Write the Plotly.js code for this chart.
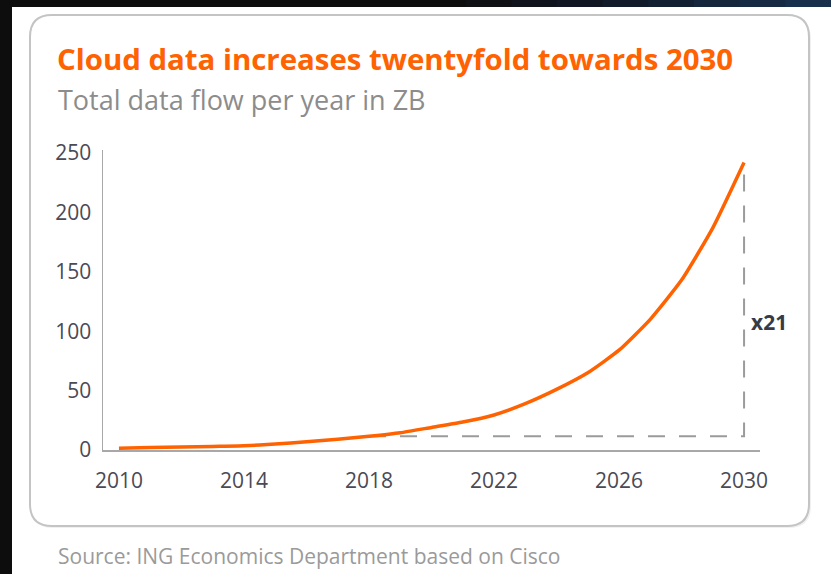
<!DOCTYPE html>
<html>
<head>
<meta charset="utf-8">
<script src="https://cdn.plot.ly/plotly-3.0.1.min.js"></script>
<style>html,body{margin:0;padding:0;background:#fff;}#chart{width:831px;height:574px;}</style>
</head>
<body>
<div id="chart"></div>
<script>
// ---- data ----
const years = [2010,2011,2012,2013,2014,2015,2016,2017,2018,2019,2020,2021,2022,2023,2024,2025,2026,2027,2028,2029,2030];
const zettabytes = [1.5,2,2.5,3,3.5,5,7,9,11.5,14.5,19,23.5,29.5,39,51,65,84,110,143,187,242];
const xTicks = [2010,2014,2018,2022,2026,2030];
const yTicks = [0,50,100,150,200,250];
const baseYear = 2018;
const endYear = 2030;
const growthLabel = "x21";

// ---- layout geometry (pixels) ----
const W = 831, H = 574, L = 103, R = 760, T = 150, B = 450;
const px = x => (x - L) / (R - L);
const py = y => (B - y) / (B - T);

const baseVal = zettabytes[years.indexOf(baseYear)];
const endVal = zettabytes[years.indexOf(endYear)];

function roundedRect(x0, y0, x1, y1, r) {
  const X = px, Y = py;
  return 'M' + X(x0 + r) + ',' + Y(y0) +
    ' L' + X(x1 - r) + ',' + Y(y0) +
    ' Q' + X(x1) + ',' + Y(y0) + ' ' + X(x1) + ',' + Y(y0 + r) +
    ' L' + X(x1) + ',' + Y(y1 - r) +
    ' Q' + X(x1) + ',' + Y(y1) + ' ' + X(x1 - r) + ',' + Y(y1) +
    ' L' + X(x0 + r) + ',' + Y(y1) +
    ' Q' + X(x0) + ',' + Y(y1) + ' ' + X(x0) + ',' + Y(y1 - r) +
    ' L' + X(x0) + ',' + Y(y0 + r) +
    ' Q' + X(x0) + ',' + Y(y0) + ' ' + X(x0 + r) + ',' + Y(y0) + ' Z';
}

const shapes = [];
// card shadow + card
shapes.push({type:'path', xref:'paper', yref:'paper', path: roundedRect(31, 17, 811, 528, 22),
  fillcolor:'rgba(0,0,0,0.06)', line:{width:0}, layer:'below'});
shapes.push({type:'path', xref:'paper', yref:'paper', path: roundedRect(30, 15, 809, 526, 22),
  fillcolor:'#ffffff', line:{color:'#c4c4c4', width:2}, layer:'below'});
// dark frame bands
shapes.push({type:'rect', xref:'paper', yref:'paper', x0:px(0), x1:px(12), y0:py(0), y1:py(H),
  fillcolor:'#0d0d0d', line:{width:0}});
const bandColors = ['#0d0d0d','#0e1014','#0f131b','#101722','#111b2a','#132033','#15253c','#172a44','#19304c'];
const bandStart = 420, bandStep = (W - bandStart) / bandColors.length;
shapes.push({type:'rect', xref:'paper', yref:'paper', x0:px(0), x1:px(bandStart), y0:py(0), y1:py(7),
  fillcolor:'#0d0d0d', line:{width:0}});
bandColors.forEach((c, i) => {
  shapes.push({type:'rect', xref:'paper', yref:'paper',
    x0:px(bandStart + i * bandStep), x1:px(bandStart + (i + 1) * bandStep + 1), y0:py(0), y1:py(7),
    fillcolor:c, line:{width:0}});
});

const traces = [
  {
    x: [baseYear, endYear, endYear],
    y: [baseVal, baseVal, endVal],
    mode: 'lines',
    line: {color:'#9b9b9b', width:2, dash:'17px,14px'},
    hoverinfo:'skip',
    showlegend:false
  },
  {
    x: years,
    y: zettabytes,
    mode: 'lines',
    line: {color:'#ff6200', width:3.5, shape:'spline', smoothing:0.5},
    showlegend:false
  }
];

const layout = {
  width: W, height: H,
  margin: {l: L, r: W - R, t: T, b: H - B, pad: 0},
  paper_bgcolor: '#ffffff',
  plot_bgcolor: 'rgba(0,0,0,0)',
  font: {family: 'Open Sans, sans-serif', color: '#4a4a55'},
  title: {
    text: 'Cloud data increases twentyfold towards 2030',
    xref: 'container', yref: 'container',
    x: 57 / W, xanchor: 'left',
    y: 1 - 60 / H, yanchor: 'middle',
    font: {family: 'Open Sans, sans-serif', size: 29.4, color: '#ff6200', weight: 700}
  },
  xaxis: {
    range: [2009.49, 2030.51],
    tickvals: xTicks,
    ticktext: xTicks.map(String),
    showgrid: false, zeroline: false,
    showline: true, linecolor: '#a8a8a8', linewidth: 1.5,
    ticks: 'outside', ticklen: 11, tickcolor: 'rgba(0,0,0,0)',
    tickfont: {size: 21, color: '#4a4a55'},
    fixedrange: true
  },
  yaxis: {
    range: [0, 252.5],
    tickvals: yTicks,
    showgrid: false, zeroline: false,
    showline: true, linecolor: '#a8a8a8', linewidth: 1.5,
    ticks: 'outside', ticklen: 6, tickcolor: 'rgba(0,0,0,0)',
    tickfont: {size: 21, color: '#4a4a55'},
    fixedrange: true
  },
  shapes: shapes,
  annotations: [
    {text: 'Total data flow per year in ZB', xref:'paper', yref:'paper',
     x: px(56), y: py(99), xanchor:'left', yanchor:'middle', showarrow:false,
     font: {size: 27, color:'#8c8c8c'}},
    {text: 'Source: ING Economics Department based on Cisco', xref:'paper', yref:'paper',
     x: px(56), y: py(556), xanchor:'left', yanchor:'middle', showarrow:false,
     font: {size: 21, color:'#9a9a9a'}},
    {text: '<b>' + growthLabel + '</b>', xref:'x', yref:'y',
     x: endYear, y: 108, xanchor:'left', yanchor:'middle', xshift: 5, showarrow:false,
     font: {size: 21, color:'#3a3a44'}}
  ]
};

Plotly.newPlot('chart', traces, layout, {displayModeBar: false, staticPlot: true});
</script>
</body>
</html>
